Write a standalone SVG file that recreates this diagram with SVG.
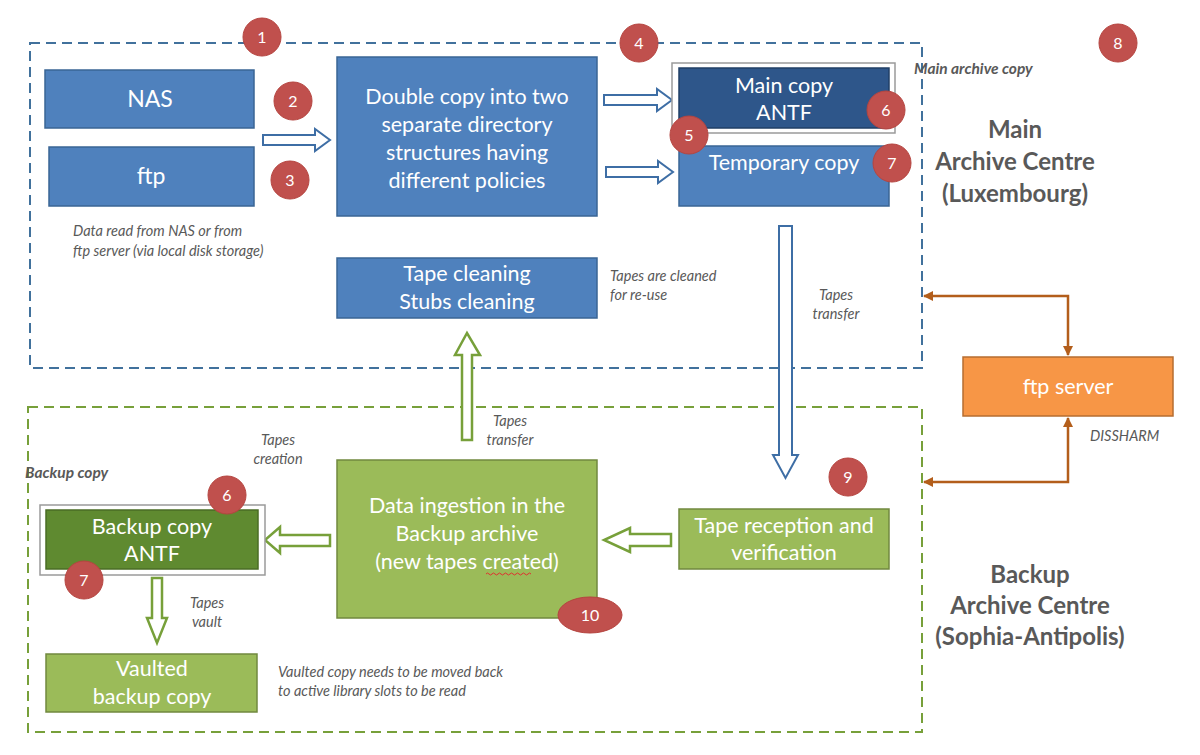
<svg xmlns="http://www.w3.org/2000/svg" width="1200" height="755" viewBox="0 0 1200 755">
<defs>
<style>
.bx{fill:#4F81BD;stroke:#3A6595;stroke-width:1.5}
.dbx{fill:#2E568A;stroke:#203F66;stroke-width:1.5}
.gbx{fill:#9BBB59;stroke:#71893F;stroke-width:1.5}
.dgbx{fill:#5F8A30;stroke:#4A6C24;stroke-width:1.5}
.obx{fill:#F79646;stroke:#B66D31;stroke-width:1.5}
.frame{fill:#fff;stroke:#9a9a9a;stroke-width:1.5}
.t{font-family:Lato,"Liberation Sans",sans-serif;fill:#fff;text-anchor:middle;font-size:21.5px}
.note{font-family:Lato,"Liberation Sans",sans-serif;fill:#595959;font-style:italic;font-size:14.5px}
.lab{font-family:Lato,"Liberation Sans",sans-serif;fill:#595959;font-style:italic;font-weight:bold;font-size:15.5px}
.big{font-family:Lato,"Liberation Sans",sans-serif;fill:#595959;font-weight:bold;font-size:24px;text-anchor:middle}
.num circle,.num ellipse{fill:#C0504D;stroke:#B5443F;stroke-width:1}
.num text{font-family:Lato,"Liberation Sans",sans-serif;fill:#fff;font-size:16px;text-anchor:middle}
.ba{fill:#fff;stroke:#3E6EA5;stroke-width:2}
.ga{fill:#fff;stroke:#77A03A;stroke-width:2.5}
.br{fill:none;stroke:#B35E1B;stroke-width:2.5}
</style>
<marker id="ah" viewBox="0 0 10 10" refX="9" refY="5" markerWidth="4" markerHeight="4" orient="auto-start-reverse">
<path d="M0,0 L10,5 L0,10 Z" fill="#B35E1B"/>
</marker>
</defs>
<rect x="0" y="0" width="1200" height="755" fill="#fff"/>

<g id="zones">
<rect x="30" y="43" width="892" height="325" fill="none" stroke="#41719C" stroke-width="2" stroke-dasharray="10,6"/>
<rect x="28" y="407" width="894" height="325" fill="none" stroke="#77A03A" stroke-width="2" stroke-dasharray="10,6"/>
</g>

<g id="connectors">
<path class="ba" d="M263,135 H315 V129 L330,140 L315,151 V145 H263 Z"/>
<path class="ba" d="M604,95 H657 V89 L672,100 L657,111 V105 H604 Z"/>
<path class="ba" d="M606,167 H658 V161 L673,172 L658,183 V177 H606 Z"/>
<path class="ba" d="M779,226 H792 V455 H798 L785.5,478 L773,455 H779 Z"/>
<path class="ga" d="M462,440 V355 H455 L467,333 L480,355 H472 V440 Z"/>
<path class="ga" d="M330,535 H280 V527 L265,540 L280,553 V546 H330 Z"/>
<path class="ga" d="M671,534 H630 V528 L604,540 L630,552 V546 H671 Z"/>
<path class="ga" d="M152,578 H162 V618 H167 L157,643 L147,618 H152 Z"/>
<path class="br" d="M924,296 H1068 V355" marker-start="url(#ah)" marker-end="url(#ah)"/>
<path class="br" d="M924,482 H1068 V418" marker-start="url(#ah)" marker-end="url(#ah)"/>
</g>

<g id="nas"><rect class="bx" x="45" y="70" width="209" height="58"/><text class="t" x="150" y="107" style="font-size:23px">NAS</text></g>
<g id="ftp"><rect class="bx" x="49" y="147" width="205" height="59"/><text class="t" x="151" y="184" style="font-size:23px">ftp</text></g>
<g id="double-copy"><rect class="bx" x="337" y="57" width="260" height="159"/>
<text class="t" x="467" y="104">Double copy into two</text>
<text class="t" x="467" y="132">separate directory</text>
<text class="t" x="467" y="160">structures having</text>
<text class="t" x="467" y="188">different policies</text></g>
<g id="tape-cleaning"><rect class="bx" x="337" y="258" width="260" height="60"/>
<text class="t" x="467" y="281">Tape cleaning</text>
<text class="t" x="467" y="309">Stubs cleaning</text></g>
<g id="main-copy"><rect class="frame" x="672" y="63" width="223" height="70"/><rect class="dbx" x="679" y="68" width="210" height="60"/>
<text class="t" x="784" y="93">Main copy</text>
<text class="t" x="784" y="120">ANTF</text></g>
<g id="temporary-copy"><rect class="bx" x="679" y="146" width="210" height="60"/>
<text class="t" x="784" y="170">Temporary copy</text></g>
<g id="ftp-server"><rect class="obx" x="963" y="357" width="210" height="59"/>
<text class="t" x="1068" y="394">ftp server</text></g>
<g id="backup-copy"><rect class="frame" x="40" y="505" width="225" height="70"/><rect class="dgbx" x="46" y="510" width="212" height="59"/>
<text class="t" x="152" y="534">Backup copy</text>
<text class="t" x="152" y="561">ANTF</text></g>
<g id="data-ingestion"><rect class="gbx" x="337" y="460" width="260" height="158"/>
<text class="t" x="467" y="513">Data ingestion in the</text>
<text class="t" x="467" y="541">Backup archive</text>
<text class="t" x="467" y="569">(new tapes created)</text>
<path d="M486,574 q1.5,-2 3,0 t3,0 t3,0 t3,0 t3,0 t3,0 t3,0 t3,0 t3,0 t3,0 t3,0 t3,0 t3,0 t3,0 t3,0" fill="none" stroke="#E03030" stroke-width="1"/></g>
<g id="tape-reception"><rect class="gbx" x="679" y="509" width="210" height="60"/>
<text class="t" x="784" y="533">Tape reception and</text>
<text class="t" x="784" y="560">verification</text></g>
<g id="vaulted"><rect class="gbx" x="46" y="654" width="211" height="58"/>
<text class="t" x="152" y="676">Vaulted</text>
<text class="t" x="152" y="704">backup copy</text></g>

<g id="labels">
<text class="note" x="73" y="236">Data read from NAS or from</text>
<text class="note" x="73" y="256">ftp server (via local disk storage)</text>
<text class="note" x="610" y="281">Tapes are cleaned</text>
<text class="note" x="610" y="300">for re-use</text>
<text class="note" x="836" y="300" text-anchor="middle">Tapes</text>
<text class="note" x="836" y="319" text-anchor="middle">transfer</text>
<text class="lab" x="914" y="74">Main archive copy</text>
<text class="big" x="1015" y="138">Main</text>
<text class="big" x="1015" y="170">Archive Centre</text>
<text class="big" x="1015" y="202">(Luxembourg)</text>
<text class="note" x="1090" y="441">DISSHARM</text>
<text class="note" x="510" y="426" text-anchor="middle">Tapes</text>
<text class="note" x="510" y="445" text-anchor="middle">transfer</text>
<text class="note" x="278" y="445" text-anchor="middle">Tapes</text>
<text class="note" x="278" y="464" text-anchor="middle">creation</text>
<text class="lab" x="25" y="478">Backup copy</text>
<text class="note" x="207" y="608" text-anchor="middle">Tapes</text>
<text class="note" x="207" y="627" text-anchor="middle">vault</text>
<text class="note" x="278" y="677">Vaulted copy needs to be moved back</text>
<text class="note" x="278" y="696">to active library slots to be read</text>
<text class="big" x="1030" y="583">Backup</text>
<text class="big" x="1030" y="614">Archive Centre</text>
<text class="big" x="1030" y="645">(Sophia-Antipolis)</text>
</g>

<g id="markers" class="num">
<g><circle cx="262" cy="37" r="19"/><text x="262" y="43">1</text></g>
<g><circle cx="293" cy="101" r="19"/><text x="293" y="107">2</text></g>
<g><circle cx="290" cy="180" r="19"/><text x="290" y="186">3</text></g>
<g><circle cx="639" cy="43" r="19"/><text x="639" y="49">4</text></g>
<g><circle cx="689" cy="135" r="19"/><text x="689" y="141">5</text></g>
<g><circle cx="886" cy="110" r="19"/><text x="886" y="116">6</text></g>
<g><circle cx="892" cy="163" r="19"/><text x="892" y="169">7</text></g>
<g><circle cx="1118" cy="43" r="19"/><text x="1118" y="49">8</text></g>
<g><circle cx="848" cy="477" r="19"/><text x="848" y="483">9</text></g>
<g><circle cx="227" cy="495" r="19"/><text x="227" y="501">6</text></g>
<g><circle cx="84" cy="580" r="19"/><text x="84" y="586">7</text></g>
<g><ellipse cx="590" cy="615" rx="32" ry="18"/><text x="590" y="621">10</text></g>
</g>
</svg>
